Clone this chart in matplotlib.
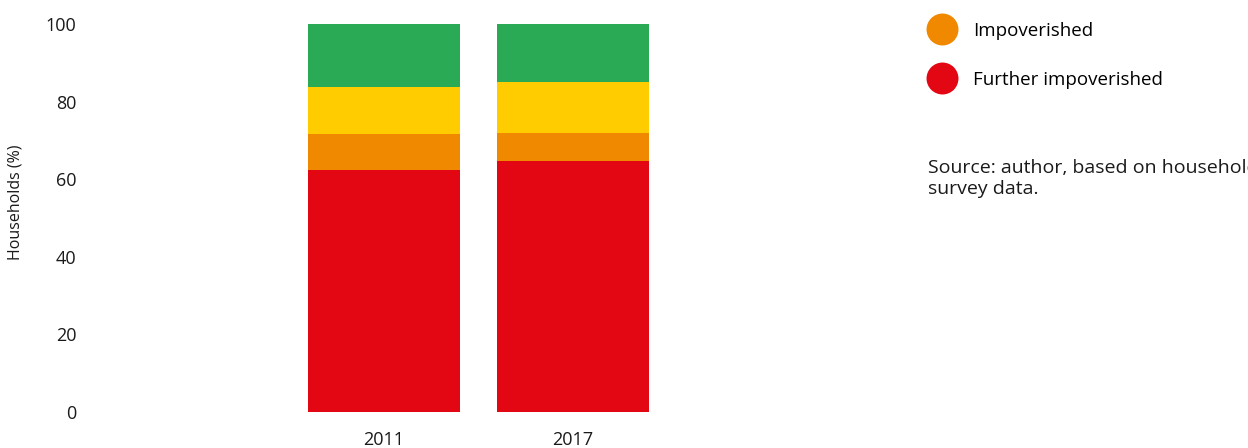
import matplotlib
matplotlib.use("Agg")
from matplotlib import pyplot as plt
from matplotlib.lines import Line2D

plt.rcParams['font.family'] = ['Open Sans', 'DejaVu Sans']

# data (percent of households)
years = ["2011", "2017"]
further_impoverished = [62.4, 64.7]
impoverished = [9.2, 7.2]
third_group = [12.2, 13.2]
fourth_group = [16.2, 14.9]

legend_labels = ["Impoverished", "Further impoverished"]

red = "#e30613"
orange = "#f08800"
yellow = "#ffcc00"
green = "#2aaa55"
ink = "#1a1a1a"

fig = plt.figure(figsize=(12.48, 4.48), dpi=100)
ax = fig.add_axes([0.08, 0.0804, 0.60, 0.866])

x = range(len(years))
width = 0.804
bottom = [0.0] * len(years)
for vals, col in [(further_impoverished, red), (impoverished, orange),
                  (third_group, yellow), (fourth_group, green)]:
    ax.bar(x, vals, width=width, bottom=bottom, color=col, linewidth=0)
    bottom = [b + v for b, v in zip(bottom, vals)]

ax.set_ylim(0, 100)
ax.set_xlim(-1.503, 2.46)
ax.set_yticks([0, 20, 40, 60, 80, 100])
ax.set_xticks(list(x))
ax.set_xticklabels(years)
ax.tick_params(length=0, labelsize=13, colors=ink)
ax.tick_params(axis="y", pad=17)
ax.tick_params(axis="x", pad=14)
for s in ax.spines.values():
    s.set_visible(False)
ax.set_ylabel("Households (%)", fontsize=11.5, color=ink)
ax.yaxis.set_label_coords(-0.102, 0.54)

handles = [Line2D([], [], marker="o", linestyle="none", markersize=23,
                  markerfacecolor=c, markeredgewidth=0)
           for c in (orange, red)]
fig.legend(handles, legend_labels, loc="upper left",
           bbox_to_anchor=(0.734, 0.968), frameon=False, fontsize=13.5,
           handletextpad=0.65, labelspacing=1.65, borderaxespad=0)

fig.text(0.7436, 0.645, "Source: author, based on household\nsurvey data.",
         fontsize=14, color=ink, va="top", ha="left", linespacing=1.22)

fig.savefig("out.png", dpi=100)
